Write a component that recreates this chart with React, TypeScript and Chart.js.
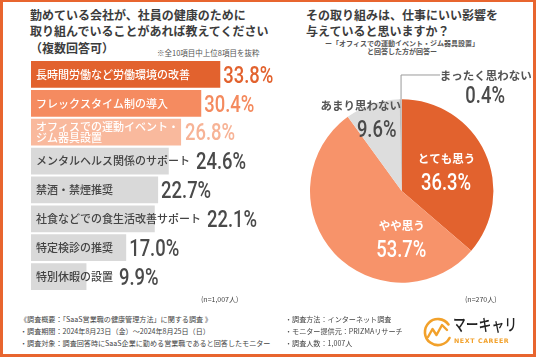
import React, { useEffect, useRef } from "react";
import { Chart, registerables } from "chart.js";

Chart.register(...registerables);

// ---------- data ----------
const barLabels = [
  "長時間労働など労働環境の改善",
  "フレックスタイム制の導入",
  "オフィスでの運動イベント・\nジム器具設置",
  "メンタルヘルス関係のサポート",
  "禁酒・禁煙推奨",
  "社食などでの食生活改善サポート",
  "特定検診の推奨",
  "特別休暇の設置",
];
const barValues = [33.8, 30.4, 26.8, 24.6, 22.7, 22.1, 17.0, 9.9];

const pieLabels = ["とても思う", "やや思う", "あまり思わない", "まったく思わない"];
const pieValues = [36.3, 53.7, 9.6, 0.4];

// ---------- styles ----------
const ORANGE = "#E2622E";
const barColors = [ORANGE, "#F58B60", "#F9B99D", "#D9D9D9", "#D9D9D9", "#D9D9D9", "#D9D9D9", "#D9D9D9"];
const barTextColors = ["#fff", "#fff", "#fff", "#444", "#444", "#444", "#444", "#444"];
const barValueColors = [ORANGE, "#F48A5E", "#F7B396", "#4A4A4A", "#4A4A4A", "#4A4A4A", "#4A4A4A", "#4A4A4A"];
const pieColors = [ORANGE, "#F7936A", "#DDDDDD", "#BDBDBD"];

const JP = '"Noto Sans CJK JP", "Noto Sans", sans-serif';
const NUM_FONT = "500 23px Roboto, sans-serif";
const NUM_SCALE = 0.8;

function drawNum(ctx: CanvasRenderingContext2D, text: string, x: number, yCenter: number, align: CanvasTextAlign) {
  ctx.save();
  ctx.font = NUM_FONT;
  ctx.textAlign = align;
  ctx.textBaseline = "alphabetic";
  ctx.translate(x, yCenter + 8.2);
  ctx.scale(NUM_SCALE, 1);
  ctx.fillText(text, 0, 0);
  ctx.restore();
}

const barTextPlugin = {
  id: "barText",
  afterDatasetsDraw(chart: any) {
    const ctx = chart.ctx as CanvasRenderingContext2D;
    const meta = chart.getDatasetMeta(0);
    meta.data.forEach((bar: any, i: number) => {
      const lines = barLabels[i].split("\n");
      ctx.save();
      ctx.font = `500 11px ${JP}`;
      ctx.fillStyle = barTextColors[i];
      ctx.textAlign = "left";
      ctx.textBaseline = "middle";
      const lx = bar.base + 5;
      let maxW = 0;
      const lh = 11.6;
      lines.forEach((ln, k) => {
        const y = bar.y + (k - (lines.length - 1) / 2) * lh;
        ctx.fillText(ln, lx, y);
        maxW = Math.max(maxW, ctx.measureText(ln).width);
      });
      const vx = Math.max(bar.x + 3, lx + maxW + 6);
      ctx.fillStyle = barValueColors[i];
      drawNum(ctx, barValues[i].toFixed(1) + "%", vx, bar.y, "left");
      ctx.restore();
    });
  },
};

const pieTextPlugin = {
  id: "pieText",
  afterDatasetsDraw(chart: any) {
    const ctx = chart.ctx as CanvasRenderingContext2D;
    const meta = chart.getDatasetMeta(0);
    const a0 = meta.data[0] as any;
    const cx = a0.x, cy = a0.y, R = a0.outerRadius;
    const place = [
      { lx: 0.489, ly: -0.349, vx: 0.483, vy: -0.101, lc: "#fff", vc: "#fff" },
      { lx: 0.0, ly: 0.378, vx: -0.005, vy: 0.633, lc: "#fff", vc: "#fff" },
      { lx: -0.447, ly: -0.93, vx: -0.273, vy: -0.683, lc: "#555", vc: "#4A4A4A" },
      { lx: 0.916, ly: -1.257, vx: 0.91, vy: -1.046, lc: "#555", vc: "#4A4A4A" },
    ];
    ctx.save();
    // leader line for the tiny slice
    const a3 = meta.data[3] as any;
    const mid = (a3.startAngle + a3.endAngle) / 2;
    const px = cx + Math.cos(mid) * R;
    const py = cy + Math.sin(mid) * R;
    ctx.strokeStyle = "#9A9A9A";
    ctx.lineWidth = 1;
    ctx.beginPath();
    ctx.moveTo(px + 0.5, py);
    ctx.lineTo(px + 0.5, cy - R * 1.265);
    ctx.lineTo(cx + R * 0.418, cy - R * 1.265);
    ctx.stroke();

    pieLabels.forEach((lab, i) => {
      const p = place[i];
      ctx.textAlign = "center";
      ctx.textBaseline = "middle";
      ctx.font = `bold 11.5px ${JP}`;
      ctx.fillStyle = p.lc;
      ctx.fillText(lab, cx + p.lx * R, cy + p.ly * R);
      ctx.fillStyle = p.vc;
      drawNum(ctx, pieValues[i].toFixed(1) + "%", cx + p.vx * R, cy + p.vy * R, "center");
    });
    ctx.restore();
  },
};

function BarChart() {
  const ref = useRef<HTMLCanvasElement>(null);
  useEffect(() => {
    const chart = new Chart(ref.current!, {
      type: "bar",
      data: {
        labels: barLabels,
        datasets: [
          {
            data: barValues,
            backgroundColor: barColors,
            borderWidth: 0,
            barPercentage: 0.93,
            categoryPercentage: 1,
          },
        ],
      },
      options: {
        indexAxis: "y",
        animation: false,
        responsive: false,
        maintainAspectRatio: false,
        layout: { padding: { left: 31, right: 25, top: 60, bottom: 9 } },
        scales: {
          x: { display: false, min: 0, max: 40 },
          y: { display: false },
        },
        plugins: { legend: { display: false }, tooltip: { enabled: false } },
      },
      plugins: [barTextPlugin],
    });
    return () => chart.destroy();
  }, []);
  return (
    <canvas
      ref={ref}
      width={280}
      height={300}
      style={{ position: "absolute", left: 0, top: 0, width: 280, height: 300 }}
    />
  );
}

function PieChart() {
  const ref = useRef<HTMLCanvasElement>(null);
  useEffect(() => {
    const chart = new Chart(ref.current!, {
      type: "pie",
      data: {
        labels: pieLabels,
        datasets: [{ data: pieValues, backgroundColor: pieColors, borderWidth: 0 }],
      },
      options: {
        animation: false,
        responsive: false,
        maintainAspectRatio: false,
        layout: { padding: { left: 40, right: 42.6, top: 39.3, bottom: 27.3 } },
        plugins: { legend: { display: false }, tooltip: { enabled: false } },
      },
      plugins: [pieTextPlugin],
    });
    return () => chart.destroy();
  }, []);
  return (
    <canvas
      ref={ref}
      width={266}
      height={250}
      style={{ position: "absolute", left: 270, top: 60, width: 266, height: 250 }}
    />
  );
}

const abs = (o: React.CSSProperties): React.CSSProperties => ({ position: "absolute", ...o });

export default function App() {
  const titleStyle: React.CSSProperties = {
    fontFamily: JP,
    fontWeight: 700,
    fontSize: 12,
    lineHeight: "16.5px",
    color: "#3C3C3C",
    whiteSpace: "nowrap",
  };
  const footStyle: React.CSSProperties = {
    fontFamily: JP,
    fontSize: 7.1,
    lineHeight: "11.8px",
    color: "#444",
    whiteSpace: "nowrap",
  };
  return (
    <div
      style={{
        position: "fixed",
        left: 0,
        top: 0,
        width: 536,
        height: 357,
        background: "#fff",
        overflow: "hidden",
      }}
    >
      <div style={abs({ left: 30, top: 6.5, ...titleStyle })}>
        勤めている会社が、社員の健康のために
        <br />
        取り組んでいることがあれば教えてください
        <br />
        （複数回答可）
      </div>
      <div style={abs({ left: 157, top: 47, fontFamily: JP, fontSize: 7.5, color: "#555", whiteSpace: "nowrap" })}>
        ※全10項目中上位8項目を抜粋
      </div>
      <div style={abs({ left: 306, top: 6.5, ...titleStyle })}>
        その取り組みは、仕事にいい影響を
        <br />
        与えていると思いますか？
      </div>
      <div
        style={abs({
          left: 302,
          width: 200,
          top: 39,
          textAlign: "center",
          fontFamily: JP,
          fontWeight: 700,
          fontSize: 7,
          lineHeight: "8.4px",
          color: "#555",
          whiteSpace: "nowrap",
        })}
      >
        ー「オフィスでの運動イベント・ジム器具設置」
        <br />
        と回答した方が回答ー
      </div>

      <BarChart />
      <PieChart />

      <div style={abs({ left: 201, top: 294, fontFamily: JP, fontSize: 7, color: "#444", whiteSpace: "nowrap" })}>
        (n=1,007人)
      </div>
      <div style={abs({ left: 465, top: 294, fontFamily: JP, fontSize: 7, color: "#444", whiteSpace: "nowrap" })}>
        (n=270人)
      </div>

      <div style={abs({ left: 20, top: 314, ...footStyle })}>
        《調査概要：「SaaS営業職の健康管理方法」に関する調査 》
        <br />
        ・調査期間：2024年8月23日（金）～2024年8月25日（日）
        <br />
        ・調査対象：調査回答時にSaaS企業に勤める営業職であると回答したモニター
      </div>
      <div style={abs({ left: 285, top: 314, ...footStyle })}>
        ・調査方法：インターネット調査
        <br />
        ・モニター提供元：PRIZMAリサーチ
        <br />
        ・調査人数：1,007人
      </div>

      <svg width={32} height={32} style={abs({ left: 421, top: 316 })} viewBox="0 0 32 32">
        <path
          d="M 27.5 8.5 A 13 13 0 1 0 28.5 22"
          fill="none"
          stroke="#F2A12B"
          strokeWidth={2.6}
          strokeLinecap="round"
        />
        <polyline
          points="7,21 11.5,13 15.5,19 21,9 26,14"
          fill="none"
          stroke="#F2A12B"
          strokeWidth={2.4}
          strokeLinejoin="round"
          strokeLinecap="round"
        />
      </svg>
      <div
        style={abs({
          left: 453,
          top: 316,
          fontFamily: JP,
          fontWeight: 500,
          fontSize: 12.8,
          lineHeight: "16px",
          color: "#222",
          whiteSpace: "nowrap",
          transform: "scale(1, 1.3)",
          transformOrigin: "0 50%",
        })}
      >
        マーキャリ
      </div>
      <div
        style={abs({
          left: 454,
          top: 337,
          fontFamily: '"DejaVu Sans", sans-serif',
          fontWeight: 700,
          fontSize: 6.3,
          letterSpacing: 0.6,
          lineHeight: "8px",
          color: "#F2A12B",
          whiteSpace: "nowrap",
        })}
      >
        NEXT CAREER
      </div>

      <div
        style={abs({
          left: 0,
          top: 0,
          width: 536,
          height: 357,
          boxSizing: "border-box",
          border: "3px solid #E8652F",
          borderTopWidth: 2,
          pointerEvents: "none",
        })}
      />
    </div>
  );
}
